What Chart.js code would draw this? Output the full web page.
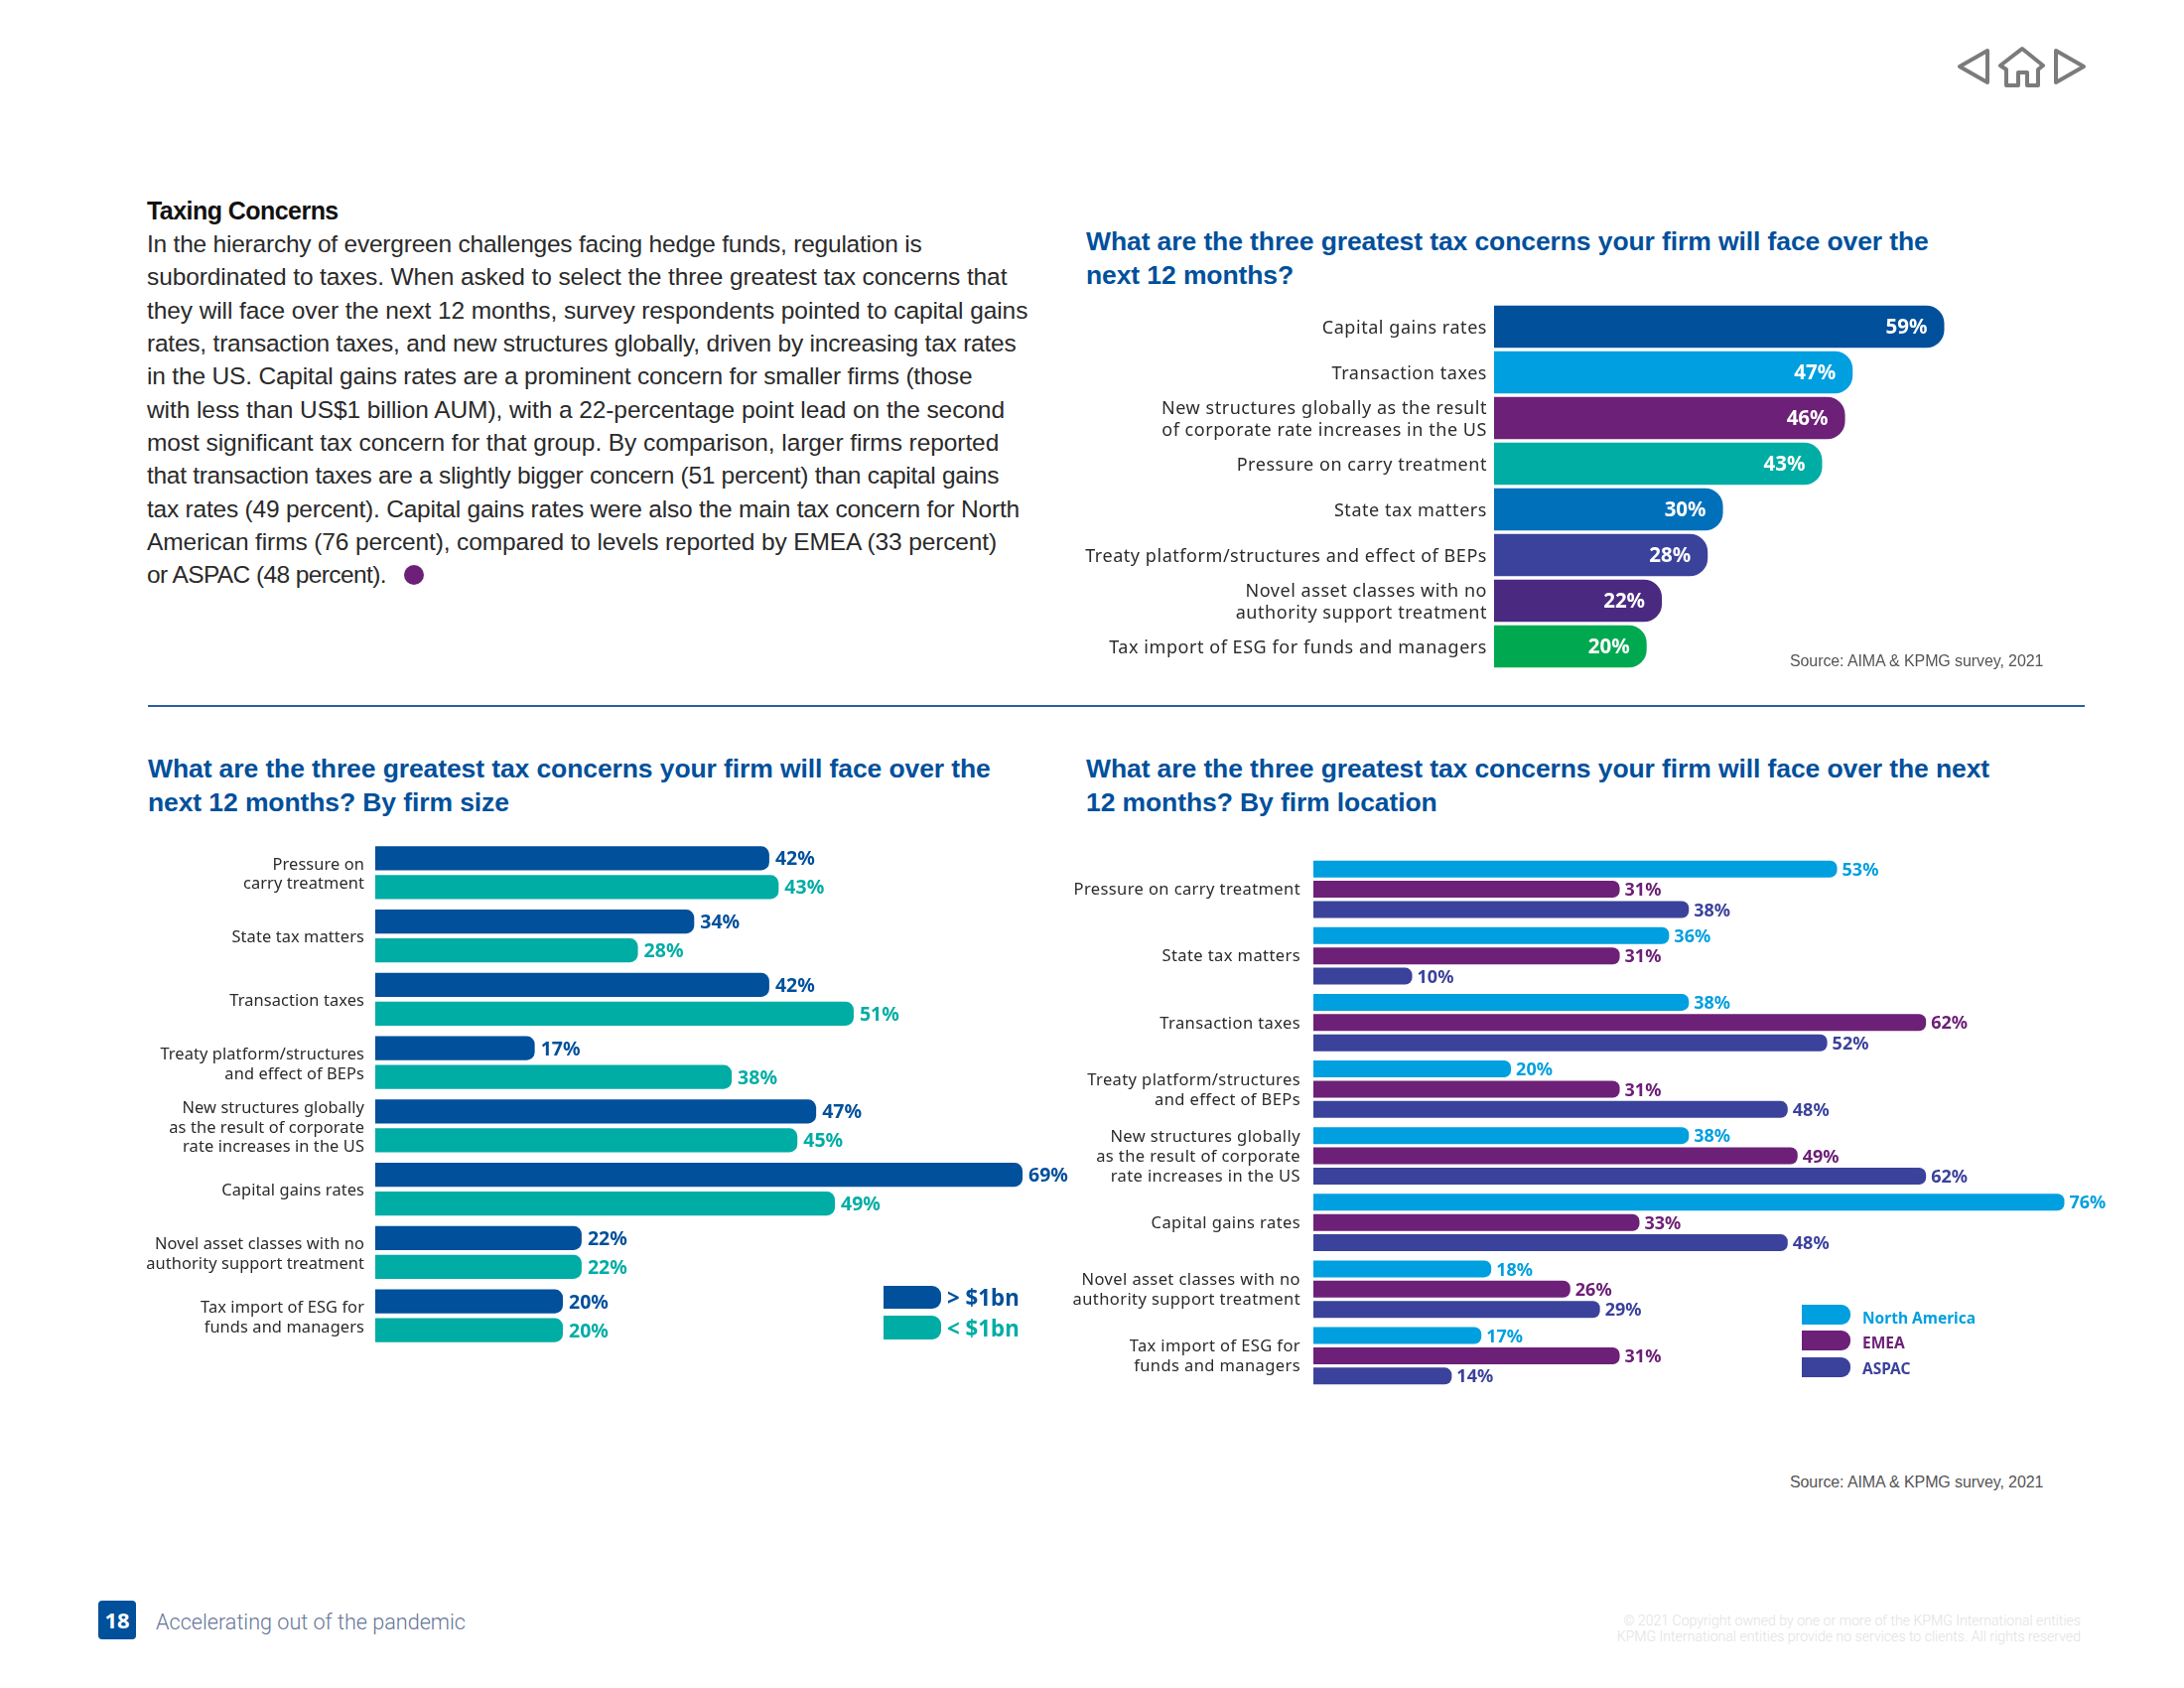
<!DOCTYPE html>
<html>
<head>
<meta charset="utf-8">
<title>Taxing Concerns</title>
<script src="https://cdn.jsdelivr.net/npm/chart.js@4"></script>
<style>
  html, body { margin: 0; padding: 0; background: #fff; }
  #page { position: relative; width: 2200px; height: 1700px; overflow: hidden; font-family: "Liberation Sans", sans-serif; }
  #page > * { position: absolute; }
  canvas { display: block; }
  .title { color: #00509b; font-weight: bold; font-size: 26.5px; line-height: 33.5px; white-space: nowrap; letter-spacing: -0.1px; }
  .body { left: 148px; top: 229px; color: #2a2a2a; font-size: 24.5px; line-height: 33.35px; white-space: nowrap; letter-spacing: -0.22px; }
  .body span { display: block; }
  .source { color: #555; font-size: 16px; white-space: nowrap; letter-spacing: -0.1px; line-height: 20px; }
  .swatch { border-radius: 0 9px 9px 0; }
  .legend { font-weight: bold; white-space: nowrap; line-height: 24px; font-family: "Noto Sans", sans-serif; }
</style>
</head>
<body>
<div id="page">
  <svg style="left:1960px;top:40px" width="150" height="55" viewBox="1960 40 150 55" fill="none" stroke="#7b7b7b" stroke-width="4" stroke-linejoin="round" stroke-linecap="round">
    <path d="M1974 67 L2002 51 L2002 83 Z"/>
    <path d="M2015 66 L2037 49 L2058 66 L2053 70 L2053 86 L2042 86 L2042 73 L2033 73 L2033 86 L2021 86 L2021 70 Z"/>
    <path d="M2071 51 L2099 67 L2071 83 Z"/>
  </svg>

  <div style="left:148px;top:195px;font-weight:bold;font-size:25px;line-height:34px;color:#111;letter-spacing:-0.55px">Taxing Concerns</div>
  <div class="body">
    <span>In the hierarchy of evergreen challenges facing hedge funds, regulation is</span>
    <span style="letter-spacing:-0.10px">subordinated to taxes. When asked to select the three greatest tax concerns that</span>
    <span style="letter-spacing:-0.09px">they will face over the next 12 months, survey respondents pointed to capital gains</span>
    <span>rates, transaction taxes, and new structures globally, driven by increasing tax rates</span>
    <span style="letter-spacing:-0.18px">in the US. Capital gains rates are a prominent concern for smaller firms (those</span>
    <span style="letter-spacing:-0.08px">with less than US$1 billion AUM), with a 22-percentage point lead on the second</span>
    <span style="letter-spacing:-0.08px">most significant tax concern for that group. By comparison, larger firms reported</span>
    <span style="letter-spacing:-0.29px">that transaction taxes are a slightly bigger concern (51 percent) than capital gains</span>
    <span>tax rates (49 percent). Capital gains rates were also the main tax concern for North</span>
    <span style="letter-spacing:-0.13px">American firms (76 percent), compared to levels reported by EMEA (33 percent)</span>
    <span style="letter-spacing:-0.6px">or ASPAC (48 percent).</span>
  </div>
  <div style="left:407px;top:569px;width:20px;height:20px;border-radius:50%;background:#6d2077"></div>

  <div class="title" style="left:1094px;top:227px">What are the three greatest tax concerns your firm will face over the<br>next 12 months?</div>
  <canvas id="chartAll" width="910" height="368" style="left:1090px;top:306px"></canvas>
  <div class="source" style="left:1803px;top:656px">Source: AIMA &amp; KPMG survey, 2021</div>

  <div style="left:149px;top:710px;width:1951px;height:2px;background:#2a5fa5"></div>

  <div class="title" style="left:149px;top:758px">What are the three greatest tax concerns your firm will face over the<br>next 12 months? By firm size</div>
  <canvas id="chartSize" width="978" height="510" style="left:130px;top:847px"></canvas>
  <div class="swatch" style="left:890px;top:1295px;width:58px;height:23px;background:#00509b"></div>
  <div class="swatch" style="left:890px;top:1325px;width:58px;height:24px;background:#00ada4"></div>
  <div class="legend" style="left:954px;top:1295px;font-size:22.3px;color:#00509b">&gt; $1bn</div>
  <div class="legend" style="left:954px;top:1326px;font-size:22.3px;color:#00ada4">&lt; $1bn</div>

  <div class="title" style="left:1094px;top:758px">What are the three greatest tax concerns your firm will face over the next<br>12 months? By firm location</div>
  <canvas id="chartLocation" width="1115" height="537" style="left:1075px;top:862px"></canvas>
  <div class="swatch" style="left:1815px;top:1314px;width:49px;height:20px;background:#009fdf"></div>
  <div class="swatch" style="left:1815px;top:1340px;width:49px;height:20px;background:#6d2077"></div>
  <div class="swatch" style="left:1815px;top:1367px;width:49px;height:20px;background:#3b429b"></div>
  <div class="legend" style="left:1876px;top:1315px;font-size:15.5px;color:#009fdf">North America</div>
  <div class="legend" style="left:1876px;top:1340px;font-size:15.5px;color:#6d2077">EMEA</div>
  <div class="legend" style="left:1876px;top:1366px;font-size:15.5px;color:#3b429b">ASPAC</div>
  <div class="source" style="left:1803px;top:1483px">Source: AIMA &amp; KPMG survey, 2021</div>

  <div style="left:99px;top:1612px;width:38px;height:39px;border-radius:4px;background:#00509b;color:#fff;font:bold 22px/38px 'Noto Sans',sans-serif;text-align:center">18</div>
  <div style="left:157px;top:1620px;font:300 21.6px/28px Roboto,sans-serif;color:#66759a;white-space:nowrap">Accelerating out of the pandemic</div>
  <div style="right:104px;top:1624px;font:300 14.1px/16px Roboto,sans-serif;color:#e2e2e2;text-align:right;white-space:nowrap">© 2021 Copyright owned by one or more of the KPMG International entities<br>KPMG International entities provide no services to clients. All rights reserved</div>
</div>

<script>
// what the three charts show
const catsAll = ["Capital gains rates", "Transaction taxes",
  ["New structures globally as the result", "of corporate rate increases in the US"],
  "Pressure on carry treatment", "State tax matters", "Treaty platform/structures and effect of BEPs",
  ["Novel asset classes with no", "authority support treatment"], "Tax import of ESG for funds and managers"];
const valuesAll = [59, 47, 46, 43, 30, 28, 22, 20];
const coloursAll = ["#00509b", "#009fdf", "#6d2077", "#00ada4", "#0070ba", "#3b429b", "#4a2a80", "#00a94f"];

const catsSize = [["Pressure on", "carry treatment"], "State tax matters", "Transaction taxes",
  ["Treaty platform/structures", "and effect of BEPs"],
  ["New structures globally", "as the result of corporate", "rate increases in the US"],
  "Capital gains rates", ["Novel asset classes with no", "authority support treatment"],
  ["Tax import of ESG for", "funds and managers"]];
const over1bn = [42, 34, 42, 17, 47, 69, 22, 20];
const under1bn = [43, 28, 51, 38, 45, 49, 22, 20];

const catsLocation = ["Pressure on carry treatment", "State tax matters", "Transaction taxes",
  ["Treaty platform/structures", "and effect of BEPs"],
  ["New structures globally", "as the result of corporate", "rate increases in the US"],
  "Capital gains rates", ["Novel asset classes with no", "authority support treatment"],
  ["Tax import of ESG for", "funds and managers"]];
const northAmerica = [53, 36, 38, 20, 38, 76, 18, 17];
const emea = [31, 31, 62, 31, 49, 33, 26, 31];
const aspac = [38, 10, 52, 48, 62, 48, 29, 14];

const labelFont = '"Noto Sans", sans-serif';

// writes the percentages next to (or inside) the bars
function valueLabels(size, gap, inside) {
  return {
    id: "valueLabels",
    beforeDraw(chart) {
      chart.ctx.letterSpacing = chart.options.tickSpacing + "px";
    },
    afterDatasetsDraw(chart) {
      const ctx = chart.ctx;
      ctx.save();
      ctx.letterSpacing = "0px";
      ctx.font = "bold " + size + "px " + labelFont;
      ctx.textBaseline = "middle";
      ctx.textAlign = inside ? "right" : "left";
      chart.data.datasets.forEach((ds, i) => {
        chart.getDatasetMeta(i).data.forEach((bar, j) => {
          ctx.fillStyle = inside ? "#fff" : ds.backgroundColor;
          ctx.fillText(ds.data[j] + "%", inside ? bar.x - gap : bar.x + gap, bar.y + 1.5);
        });
      });
      ctx.restore();
    }
  };
}

function barChart(id, cats, datasets, xMax, axisWidth, fontSize, tickSpacing, tickPad, tickShift, plugin) {
  return new Chart(document.getElementById(id), {
    type: "bar",
    data: { labels: cats, datasets: datasets },
    options: {
      indexAxis: "y",
      responsive: false,
      animation: false,
      devicePixelRatio: 1,
      tickSpacing: tickSpacing,
      layout: { padding: 0 },
      plugins: { legend: { display: false }, tooltip: { enabled: false } },
      scales: {
        x: { display: false, min: 0, max: xMax },
        y: {
          // no room for label overhang, the bars fill the canvas height
          afterFit(scale) {
            scale.width = axisWidth;
            scale.paddingTop = 0;
            scale.paddingBottom = 0;
          },
          grid: { display: false, drawTicks: false },
          border: { display: false },
          ticks: {
            autoSkip: false,
            padding: tickPad,
            labelOffset: tickShift,
            color: "#2b2b2b",
            font: { family: labelFont, size: fontSize, lineHeight: 1.2 }
          }
        }
      }
    },
    plugins: [plugin]
  });
}

function rounded(r) {
  return { topLeft: 0, bottomLeft: 0, topRight: r, bottomRight: r };
}

barChart("chartAll", catsAll, [{
  data: valuesAll, backgroundColor: coloursAll, borderRadius: rounded(18), borderSkipped: false,
  barPercentage: 0.928, categoryPercentage: 1
}], 64.4, 415, 18, 0.55, 7, 2, valueLabels(20.5, 17, true));

const sizeOpts = { borderRadius: rounded(8), borderSkipped: false, barPercentage: 0.828, categoryPercentage: 0.91 };
barChart("chartSize", catsSize, [
  { data: over1bn, backgroundColor: "#00509b", ...sizeOpts },
  { data: under1bn, backgroundColor: "#00ada4", ...sizeOpts }
], 77.25, 248, 16.4, 0.1, 11, 2, valueLabels(19.5, 6, false));

const locOpts = { borderRadius: rounded(7), borderSkipped: false, barPercentage: 0.833, categoryPercentage: 0.912 };
barChart("chartLocation", catsLocation, [
  { data: northAmerica, backgroundColor: "#009fdf", ...locOpts },
  { data: emea, backgroundColor: "#6d2077", ...locOpts },
  { data: aspac, backgroundColor: "#3b429b", ...locOpts }
], 87.1, 248, 16.5, 0.4, 13, 1, valueLabels(18, 5, false));
</script>
</body>
</html>
